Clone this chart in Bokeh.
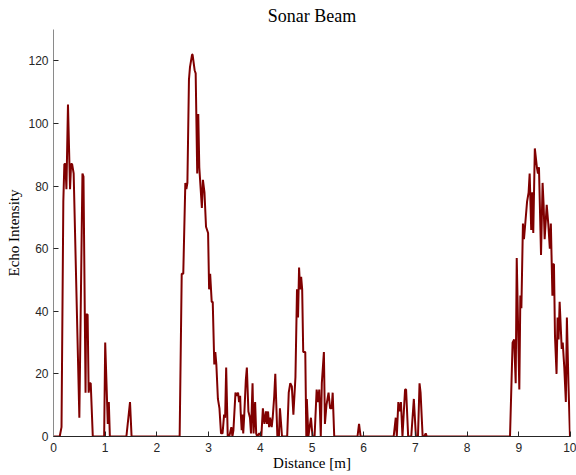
from bokeh.plotting import figure
from bokeh.models import Range1d, FixedTicker
from bokeh.embed import file_html
from bokeh.resources import INLINE

distance = [0.0, 0.12, 0.155, 0.19, 0.21, 0.23, 0.25, 0.28, 0.32, 0.34, 0.36, 0.39, 0.50, 0.56, 0.58,
            0.62, 0.63, 0.66, 0.68, 0.70, 0.72, 0.76, 0.98, 1.00, 1.05, 1.07, 1.09, 1.41, 1.48, 1.51,
            2.44, 2.48, 2.51, 2.55, 2.57, 2.59, 2.62, 2.64, 2.68, 2.69, 2.73, 2.75, 2.78, 2.80, 2.82,
            2.87, 2.89, 2.92, 2.95, 2.99, 3.01, 3.03, 3.06, 3.08, 3.11, 3.13, 3.15, 3.18, 3.21, 3.24,
            3.27, 3.30, 3.32, 3.34, 3.37, 3.40, 3.44, 3.46, 3.48, 3.52, 3.55, 3.57, 3.59, 3.61, 3.62,
            3.64, 3.655, 3.67, 3.69, 3.72, 3.74, 3.77, 3.80, 3.82, 3.85, 3.87, 3.90, 3.92, 3.94, 3.98,
            4.02, 4.05, 4.08, 4.11, 4.13, 4.15, 4.17, 4.19, 4.22, 4.24, 4.27, 4.29, 4.31, 4.33, 4.36,
            4.38, 4.42, 4.52, 4.55, 4.58, 4.61, 4.64, 4.68, 4.71, 4.73, 4.75, 4.77, 4.79, 4.81, 4.83,
            4.87, 4.89, 4.90, 4.93, 4.98, 5.01, 5.05, 5.09, 5.12, 5.14, 5.17, 5.19, 5.23, 5.25, 5.28,
            5.32, 5.35, 5.38, 5.40, 5.43, 5.88, 5.91, 5.94, 6.58, 6.62, 6.64, 6.67, 6.69, 6.72, 6.75,
            6.80, 6.82, 6.86, 6.92, 6.97, 7.01, 7.05, 7.08, 7.10, 7.14, 7.17, 7.20, 7.22, 8.83, 8.88,
            8.91, 8.94, 8.96, 9.01, 9.03, 9.05, 9.08, 9.10, 9.13, 9.16, 9.19, 9.21, 9.24, 9.26, 9.28,
            9.31, 9.35, 9.37, 9.39, 9.43, 9.46, 9.48, 9.50, 9.54, 9.57, 9.60, 9.62, 9.65, 9.66, 9.68,
            9.70, 9.73, 9.75, 9.77, 9.79, 9.83, 9.85, 9.88, 9.91, 9.93, 9.96, 9.99, 10.0]

intensity = [0, 0, 3, 75, 87, 87, 79, 106, 79, 87, 87, 84, 6, 84, 83,
             14, 39, 39, 14, 17, 17, 0, 0, 30, 4, 11, 0, 0, 11, 0,
             0, 52, 52, 81, 79, 81, 114, 118, 122, 122, 117, 116, 84, 103, 86,
             73, 82, 78, 67, 65, 47, 52, 43, 43, 23, 27, 23, 12, 9, 1,
             1, 7, 6, 22, 0, 0, 3, 0, 2, 14, 13, 14, 11, 13, 8,
             2, 7, 1, 7, 18, 22, 8, 6, 1, 17, 1, 11, 1, 0, 1,
             0, 9, 4, 8, 4, 8, 3, 6, 3, 6, 13, 20, 10, 0, 0,
             9, 0, 0, 14, 17, 16, 7, 19, 47, 38, 54, 47, 51, 47, 27,
             27, 0, 12, 0, 6, 0, 0, 15, 11, 15, 0, 17, 27, 4, 10,
             14, 9, 9, 14, 0, 0, 4, 0, 0, 6, 0, 11, 8, 11, 0,
             15, 15, 0, 0, 12, 0, 0, 17, 14, 0, 0, 1, 0, 0, 30,
             31, 17, 57, 15, 45, 41, 68, 63, 69, 75, 78, 84, 66, 78, 65,
             92, 86, 84, 86, 58, 81, 74, 63, 74, 68, 60, 68, 45, 55, 55,
             32, 20, 38, 31, 43, 28, 30, 22, 11, 38, 17, 0, 0]

x_ticks = [0, 1, 2, 3, 4, 5, 6, 7, 8, 9, 10]
y_ticks = [0, 20, 40, 60, 80, 100, 120]

p = figure(width=576, height=475, output_backend="svg", toolbar_location=None,
           x_range=Range1d(0, 10), y_range=Range1d(0, 130),
           title="Sonar Beam",
           min_border_left=53, min_border_right=6, min_border_top=28, min_border_bottom=39)

p.line(distance, intensity, line_color="#800000", line_width=2)

p.grid.visible = False
p.outline_line_color = None
p.background_fill_color = "white"
p.border_fill_color = "white"

p.title.align = "center"
p.title.text_font = "Liberation Serif"
p.title.text_font_size = "18px"
p.title.text_font_style = "normal"
p.title.text_color = "black"
p.title.text_line_height = 0.8
p.title.standoff = 7

p.xaxis.ticker = FixedTicker(ticks=x_ticks)
p.yaxis.ticker = FixedTicker(ticks=y_ticks)
for ax in (p.xaxis[0], p.yaxis[0]):
    ax.major_tick_in = 5
    ax.major_tick_out = 0
    ax.minor_tick_line_color = None
    ax.major_label_text_font = "Liberation Sans"
    ax.major_label_text_font_size = "12px"
    ax.major_label_text_color = "#262626"
    ax.major_label_text_line_height = 0.9
    ax.axis_label_text_font = "Liberation Serif"
    ax.axis_label_text_font_size = "15px"
    ax.axis_label_text_font_style = "normal"
    ax.axis_label_text_color = "black"
    ax.axis_label_text_line_height = 0.9
    ax.major_tick_line_color = "#262626"

p.xaxis.axis_label = "Distance [m]"
p.yaxis.axis_label = "Echo Intensity"
p.xaxis.axis_line_color = "#262626"
p.yaxis.axis_line_color = "#8a8a8a"
p.xaxis.major_label_standoff = 6
p.xaxis.axis_label_standoff = 0
p.yaxis.major_label_standoff = 5
p.yaxis.axis_label_standoff = 3

open("out.html", "w").write(file_html(p, INLINE))
